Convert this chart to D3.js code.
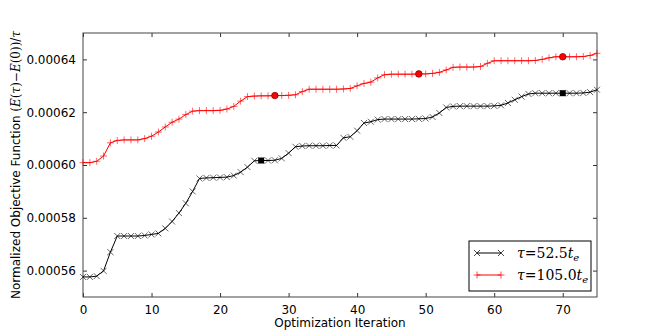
<!DOCTYPE html>
<html>
<head>
<meta charset="utf-8">
<script src="https://cdn.jsdelivr.net/npm/d3@7"></script>
<style>
  body { margin: 0; background: #fff; }
  svg { display: block; font-family: "DejaVu Sans", sans-serif; }
</style>
</head>
<body>
<svg></svg>
<script>
// values in units of 1e-6
const iterations = d3.range(0, 76);
const tau52 = [557.6, 557.6, 557.9, 559.9, 567.0, 573.1, 573.1, 573.1, 573.1, 573.3,
  573.7, 574.1, 576.0, 578.6, 581.8, 585.5, 590.0, 594.9, 595.1, 595.2,
  595.3, 595.4, 596.0, 597.3, 599.2, 601.6, 601.7, 601.7, 601.8, 602.5,
  604.5, 606.9, 607.2, 607.3, 607.3, 607.3, 607.4, 607.4, 610.3, 610.7,
  613.0, 615.9, 616.4, 617.2, 617.4, 617.4, 617.4, 617.4, 617.4, 617.5,
  617.6, 618.2, 619.7, 621.8, 622.2, 622.3, 622.3, 622.3, 622.3, 622.3,
  622.4, 622.6, 623.5, 624.7, 625.9, 626.9, 627.2, 627.2, 627.2, 627.2,
  627.2, 627.2, 627.2, 627.3, 627.6, 628.5];
const tau105 = [600.9, 600.9, 601.4, 603.4, 608.4, 609.3, 609.5, 609.5, 609.5, 610.0,
  610.9, 612.5, 614.4, 616.2, 617.4, 619.1, 620.4, 620.6, 620.6, 620.6,
  620.7, 621.2, 622.2, 624.2, 625.9, 626.1, 626.2, 626.2, 626.3, 626.3,
  626.4, 626.6, 627.8, 628.7, 628.7, 628.7, 628.7, 628.7, 628.8, 629.0,
  630.0, 630.9, 631.4, 633.0, 634.2, 634.4, 634.4, 634.4, 634.4, 634.5,
  634.5, 634.7, 635.1, 636.0, 637.0, 637.1, 637.1, 637.1, 637.3, 638.5,
  639.5, 639.5, 639.5, 639.5, 639.5, 639.5, 639.6, 640.0, 640.6, 641.0,
  641.0, 641.0, 641.0, 641.1, 641.5, 642.3];
const highlight52 = [26, 70];
const highlight105 = [28, 49, 70];
const xTicks = [0, 10, 20, 30, 40, 50, 60, 70];
const yTicks = [560, 580, 600, 620, 640];

const svgWidth = 664;
const svgHeight = 332;
const margin = { top: 33, right: 67, bottom: 35, left: 83 };
const width = svgWidth - margin.left - margin.right;
const height = svgHeight - margin.top - margin.bottom;

const svg = d3.select('svg')
  .attr('width', svgWidth)
  .attr('height', svgHeight);

const g = svg.append('g')
  .attr('transform', 'translate(' + margin.left + ',' + margin.top + ')');

const xScale = d3.scaleLinear().domain([0, 75]).range([0, width]);
const yScale = d3.scaleLinear().domain([550, 650]).range([height, 0]);

const line = d3.line()
  .x((d, i) => xScale(iterations[i]))
  .y((d) => yScale(d));

// axes: ticks inward on all sides (classic matplotlib look)
function styleAxis(sel) {
  sel.select('.domain').remove();
  sel.selectAll('.tick line').attr('stroke', '#333');
  sel.selectAll('.tick text').attr('fill', '#000').style('font-size', '12px')
    .style('font-family', '"DejaVu Sans", sans-serif');
}

g.append('g')
  .attr('transform', 'translate(0,' + height + ')')
  .call(d3.axisBottom(xScale).tickValues(xTicks).tickSizeInner(-4).tickSizeOuter(0).tickPadding(8))
  .call(styleAxis);
g.append('g')
  .call(d3.axisTop(xScale).tickValues(xTicks).tickSizeInner(-4).tickSizeOuter(0).tickFormat(''))
  .call(styleAxis);
g.append('g')
  .call(d3.axisLeft(yScale).tickValues(yTicks).tickSizeInner(-4).tickSizeOuter(0).tickPadding(7)
    .tickFormat((d) => (d * 1e-6).toFixed(5)))
  .call(styleAxis);
g.append('g')
  .attr('transform', 'translate(' + width + ',0)')
  .call(d3.axisRight(yScale).tickValues(yTicks).tickSizeInner(-4).tickSizeOuter(0).tickFormat(''))
  .call(styleAxis);

g.append('rect')
  .attr('width', width)
  .attr('height', height)
  .attr('fill', 'none')
  .attr('stroke', '#444')
  .attr('stroke-width', 1);

function drawSeries(data, color, marker) {
  g.append('path')
    .datum(data)
    .attr('fill', 'none')
    .attr('stroke', color)
    .attr('stroke-width', 1)
    .attr('d', line);
  const s = 3;
  g.append('g').selectAll('path')
    .data(data)
    .join('path')
    .attr('transform', (d, i) => 'translate(' + xScale(iterations[i]) + ',' + yScale(d) + ')')
    .attr('d', marker === 'x'
      ? `M${-s},${-s}L${s},${s}M${-s},${s}L${s},${-s}`
      : `M${-3.5},0L3.5,0M0,${-3.5}L0,3.5`)
    .attr('fill', 'none')
    .attr('stroke', color)
    .attr('stroke-opacity', 0.6)
    .attr('stroke-width', 1);
}

drawSeries(tau52, '#000', 'x');
drawSeries(tau105, '#ff0000', '+');

g.append('g').selectAll('rect')
  .data(highlight52)
  .join('rect')
  .attr('x', (d) => xScale(d) - 3)
  .attr('y', (d) => yScale(tau52[d]) - 3)
  .attr('width', 6)
  .attr('height', 6)
  .attr('fill', '#000');

g.append('g').selectAll('circle')
  .data(highlight105)
  .join('circle')
  .attr('cx', (d) => xScale(d))
  .attr('cy', (d) => yScale(tau105[d]))
  .attr('r', 3.3)
  .attr('fill', '#ff0000')
  .attr('stroke', '#600')
  .attr('stroke-width', 0.6);

// axis labels
svg.append('text')
  .attr('x', margin.left + width / 2)
  .attr('y', 327)
  .attr('text-anchor', 'middle')
  .style('font-size', '12px')
  .text('Optimization Iteration');

const yl = svg.append('text')
  .attr('transform', 'translate(20,' + (margin.top + height / 2) + ') rotate(-90)')
  .attr('text-anchor', 'middle')
  .style('font-size', '12px');
yl.append('tspan').text('Normalized Objective Function ');
const math = (t, italic) => yl.append('tspan')
  .style('font-family', '"DejaVu Serif", serif')
  .style('font-style', italic ? 'italic' : 'normal')
  .text(t);
math('(', false); math('E', true); math('(', false); math('τ', true); math(')−', false);
math('E', true); math('(0))/', false); math('τ', true);

// legend
const legend = svg.append('g').attr('transform', 'translate(469,241)');
legend.append('rect')
  .attr('width', 122)
  .attr('height', 50)
  .attr('fill', '#fff')
  .attr('stroke', '#000')
  .attr('stroke-width', 1);

const entries = [
  { label: '52.5', color: '#000', marker: 'x' },
  { label: '105.0', color: '#ff0000', marker: '+' }
];
entries.forEach((e, k) => {
  const y = 12 + k * 22;
  legend.append('line')
    .attr('x1', 8).attr('x2', 32).attr('y1', y).attr('y2', y)
    .attr('stroke', e.color).attr('stroke-width', 1);
  [8, 32].forEach((x) => {
    legend.append('path')
      .attr('transform', 'translate(' + x + ',' + y + ')')
      .attr('d', e.marker === 'x' ? 'M-3,-3L3,3M-3,3L3,-3' : 'M-3.5,0L3.5,0M0,-3.5L0,3.5')
      .attr('stroke', e.color).attr('stroke-opacity', 0.7).attr('fill', 'none');
  });
  const t = legend.append('text')
    .attr('x', 48).attr('y', y + 5)
    .style('font-family', '"DejaVu Serif", serif')
    .style('font-size', '14px');
  t.append('tspan').style('font-style', 'italic').text('τ');
  t.append('tspan').text('=' + e.label);
  t.append('tspan').style('font-style', 'italic').text('t');
  t.append('tspan').attr('dy', 3).style('font-style', 'italic').style('font-size', '10px').text('e');
});
</script>
</body>
</html>
